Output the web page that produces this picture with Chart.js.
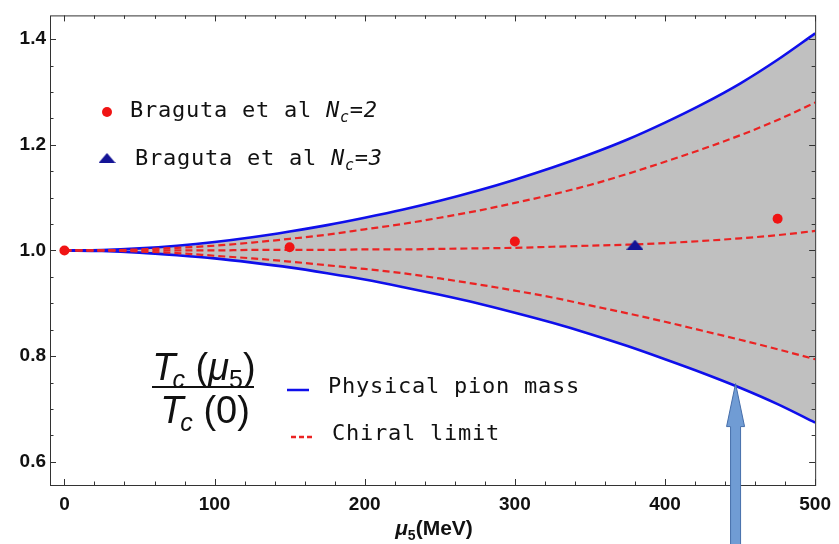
<!DOCTYPE html>
<html lang="en">
<head>
<meta charset="UTF-8">
<title>Tc(mu5)/Tc(0)</title>
<script src="https://cdn.jsdelivr.net/npm/chart.js@4"></script>
<style>
  html, body { margin: 0; padding: 0; background: #fff; }
  #wrap { width: 839px; height: 544px; }
</style>
</head>
<body>
<div id="wrap"><canvas id="tcChart" width="839" height="544"></canvas></div>
<script>
var mu5 = [0, 25, 50, 75, 100, 125, 150, 175, 200, 225, 250, 275, 300, 325, 350, 375, 400, 425, 450, 475, 500];
// physical pion mass band (blue)
var physUpper = [1.000, 1.001, 1.004, 1.009, 1.016, 1.025, 1.036, 1.048, 1.062, 1.077, 1.094, 1.113, 1.134, 1.157, 1.182, 1.210, 1.242, 1.277, 1.316, 1.361, 1.411];
var physLower = [1.000, 0.999, 0.996, 0.991, 0.985, 0.977, 0.968, 0.957, 0.945, 0.931, 0.916, 0.900, 0.882, 0.863, 0.842, 0.819, 0.794, 0.768, 0.740, 0.709, 0.674];
// chiral limit (red dashed)
var chiralUpper = [1.000, 1.000, 1.002, 1.005, 1.009, 1.015, 1.022, 1.030, 1.040, 1.050, 1.062, 1.075, 1.090, 1.106, 1.124, 1.145, 1.168, 1.192, 1.218, 1.247, 1.280];
var chiralMid = [1.000, 1.000, 1.000, 1.000, 1.000, 1.001, 1.001, 1.001, 1.002, 1.002, 1.003, 1.004, 1.005, 1.007, 1.009, 1.011, 1.014, 1.018, 1.023, 1.029, 1.037];
var chiralLower = [1.000, 1.000, 0.998, 0.995, 0.990, 0.985, 0.979, 0.972, 0.965, 0.957, 0.947, 0.936, 0.924, 0.911, 0.896, 0.881, 0.865, 0.848, 0.831, 0.813, 0.794];
// lattice points
var nc2Mu = [0, 150, 300, 475];
var nc2Val = [1.000, 1.006, 1.017, 1.060];
var nc3Mu = [380];
var nc3Val = [1.011];
// axis ticks
var xTicks = [0, 100, 200, 300, 400, 500];
var yTicks = [0.6, 0.8, 1.0, 1.2, 1.4];
// arrow annotation: points at the lower band edge
var arrowMu = 447;
var arrowVal = 0.748;

function pts(xs, ys) {
  return xs.map(function (x, i) { return { x: x, y: ys[i] }; });
}

var BLUE = 'rgb(15,15,235)';
var RED = 'rgb(235,35,35)';
var SANS = '"Liberation Sans", Arial, sans-serif';
var MONO = '"DejaVu Sans Mono", monospace';

// flat triangle marker
function makeTriangle(w, h) {
  var c = document.createElement('canvas');
  c.width = w; c.height = h;
  var g = c.getContext('2d');
  g.fillStyle = 'rgb(20,20,150)';
  g.beginPath();
  g.moveTo(w / 2, 0);
  g.lineTo(w, h);
  g.lineTo(0, h);
  g.closePath();
  g.fill();
  return c;
}
var triMarker = makeTriangle(17, 10);

function drawRuns(ctx, x, y, runs) {
  runs.forEach(function (r) {
    ctx.font = r.font;
    x += (r.dx || 0);
    ctx.fillText(r.t, x, y + (r.dy || 0));
    x += ctx.measureText(r.t).width;
  });
  return x;
}
function runsWidth(ctx, runs) {
  var w = 0;
  runs.forEach(function (r) {
    ctx.font = r.font;
    w += ctx.measureText(r.t).width + (r.dx || 0);
  });
  return w;
}

var decorPlugin = {
  id: 'decor',
  beforeDraw: function (chart) {
    var ctx = chart.ctx;
    ctx.save();
    ctx.fillStyle = '#fff';
    ctx.fillRect(0, 0, chart.width, chart.height);
    ctx.restore();
  },
  afterDatasetsDraw: function (chart) {
    var ctx = chart.ctx, a = chart.chartArea;
    var xs = chart.scales.x, ys = chart.scales.y;
    ctx.save();
    ctx.strokeStyle = '#333';
    ctx.lineWidth = 1;
    ctx.strokeRect(a.left + 0.5, a.top + 0.5, a.right - a.left, a.bottom - a.top);
    ctx.beginPath();
    // x ticks (bottom and top), minor every 20
    for (var v = 0; v <= 500; v += 20) {
      var px = Math.round(xs.getPixelForValue(v)) + 0.5;
      var len = (v % 100 === 0) ? 6 : 3.5;
      ctx.moveTo(px, a.bottom); ctx.lineTo(px, a.bottom - len);
      ctx.moveTo(px, a.top); ctx.lineTo(px, a.top + len);
    }
    // y ticks (left and right), minor every 0.05
    for (var k = 12; k <= 28; k++) {
      var py = Math.round(ys.getPixelForValue(k * 0.05)) + 0.5;
      var l2 = (k % 4 === 0) ? 6 : 3.5;
      ctx.moveTo(a.left, py); ctx.lineTo(a.left + l2, py);
      ctx.moveTo(a.right, py); ctx.lineTo(a.right - l2, py);
    }
    ctx.stroke();
    ctx.restore();
  },
  afterDraw: function (chart) {
    var ctx = chart.ctx;
    var xs = chart.scales.x, ys = chart.scales.y;
    ctx.save();
    ctx.fillStyle = '#111';
    ctx.textBaseline = 'alphabetic';

    // top legend
    ctx.fillStyle = 'rgb(240,20,20)';
    ctx.beginPath(); ctx.arc(107, 112, 5, 0, Math.PI * 2); ctx.fill();
    ctx.drawImage(triMarker, 107 - 8.5, 153);
    ctx.fillStyle = '#111';
    ctx.letterSpacing = '0.75px';
    drawRuns(ctx, 130, 117, [
      { t: 'Braguta et al ', font: '22px ' + MONO },
      { t: 'N', font: 'italic 22px ' + MONO },
      { t: 'c', font: 'italic 15px ' + MONO, dy: 5 },
      { t: '=2', font: 'italic 22px ' + MONO }
    ]);
    drawRuns(ctx, 135, 165, [
      { t: 'Braguta et al ', font: '22px ' + MONO },
      { t: 'N', font: 'italic 22px ' + MONO },
      { t: 'c', font: 'italic 15px ' + MONO, dy: 5 },
      { t: '=3', font: 'italic 22px ' + MONO }
    ]);

    // bottom legend
    ctx.lineWidth = 2.5;
    ctx.strokeStyle = BLUE;
    ctx.beginPath(); ctx.moveTo(287, 390); ctx.lineTo(309, 390); ctx.stroke();
    ctx.strokeStyle = RED;
    ctx.setLineDash([5, 3]);
    ctx.beginPath(); ctx.moveTo(291, 437); ctx.lineTo(314, 437); ctx.stroke();
    ctx.setLineDash([]);
    drawRuns(ctx, 328, 393, [{ t: 'Physical pion mass', font: '22px ' + MONO }]);
    drawRuns(ctx, 332, 440, [{ t: 'Chiral limit', font: '22px ' + MONO }]);
    ctx.letterSpacing = '0px';

    // Tc(mu5)/Tc(0)
    var num = [
      { t: 'T', font: 'italic 38px ' + SANS },
      { t: 'c', font: 'italic 25px ' + SANS, dy: 8, dx: -3 },
      { t: ' (', font: '38px ' + SANS },
      { t: '\u03bc', font: 'italic 38px ' + SANS },
      { t: '5', font: '25px ' + SANS, dy: 8 },
      { t: ')', font: '38px ' + SANS }
    ];
    var den = [
      { t: 'T', font: 'italic 38px ' + SANS },
      { t: 'c', font: 'italic 25px ' + SANS, dy: 8, dx: -3 },
      { t: ' (0)', font: '38px ' + SANS }
    ];
    drawRuns(ctx, 204 - runsWidth(ctx, num) / 2, 380, num);
    drawRuns(ctx, 205 - runsWidth(ctx, den) / 2, 423, den);
    ctx.fillRect(152, 386, 102, 2);

    // x axis title
    var xt = [
      { t: '\u03bc', font: 'italic bold 21px ' + SANS },
      { t: '5', font: 'bold 14px ' + SANS, dy: 5 },
      { t: '(MeV)', font: 'bold 21px ' + SANS }
    ];
    drawRuns(ctx, 434 - runsWidth(ctx, xt) / 2, 535, xt);

    // arrow
    var ax = xs.getPixelForValue(arrowMu);
    var ay = ys.getPixelForValue(arrowVal);
    ctx.fillStyle = 'rgb(112,156,212)';
    ctx.strokeStyle = 'rgb(70,110,170)';
    ctx.lineWidth = 1;
    ctx.beginPath();
    ctx.moveTo(ax, ay);
    ctx.lineTo(ax + 9, ay + 43);
    ctx.lineTo(ax + 5, ay + 43);
    ctx.lineTo(ax + 5, chart.height + 2);
    ctx.lineTo(ax - 5, chart.height + 2);
    ctx.lineTo(ax - 5, ay + 43);
    ctx.lineTo(ax - 9, ay + 43);
    ctx.closePath();
    ctx.fill();
    ctx.stroke();
    ctx.restore();
  }
};

var lineBase = { showLine: true, pointRadius: 0, cubicInterpolationMode: 'monotone', fill: false };

var chart = new Chart(document.getElementById('tcChart').getContext('2d'), {
  type: 'scatter',
  data: {
    datasets: [
      { label: 'Braguta et al Nc=2', data: pts(nc2Mu, nc2Val), pointRadius: 5, pointBackgroundColor: 'rgb(240,20,20)', pointBorderWidth: 0, showLine: false },
      { label: 'Braguta et al Nc=3', data: pts(nc3Mu, nc3Val), pointStyle: triMarker, pointRadius: 8, showLine: false },
      Object.assign({}, lineBase, { label: 'Chiral upper', data: pts(mu5, chiralUpper), borderColor: RED, borderWidth: 2.2, borderDash: [7, 4] }),
      Object.assign({}, lineBase, { label: 'Chiral mid', data: pts(mu5, chiralMid), borderColor: RED, borderWidth: 2.2, borderDash: [7, 4] }),
      Object.assign({}, lineBase, { label: 'Chiral lower', data: pts(mu5, chiralLower), borderColor: RED, borderWidth: 2.2, borderDash: [7, 4] }),
      Object.assign({}, lineBase, { label: 'Physical upper', data: pts(mu5, physUpper), borderColor: BLUE, borderWidth: 2.6, fill: '+1', backgroundColor: '#c0c0c0' }),
      Object.assign({}, lineBase, { label: 'Physical lower', data: pts(mu5, physLower), borderColor: BLUE, borderWidth: 2.6 })
    ]
  },
  options: {
    responsive: false,
    animation: false,
    devicePixelRatio: 1,
    layout: { padding: { top: 11, right: 21, left: 0, bottom: 0 } },
    plugins: {
      legend: { display: false },
      tooltip: { enabled: false },
      filler: { drawTime: 'beforeDatasetsDraw' }
    },
    scales: {
      x: {
        type: 'linear', min: -9.6, max: 500,
        grid: { display: false, drawTicks: false },
        border: { display: false },
        afterBuildTicks: function (s) { s.ticks = xTicks.map(function (v) { return { value: v }; }); },
        afterFit: function (s) { s.height = 59; },
        ticks: { padding: 8, color: '#111', maxRotation: 0, font: { family: SANS, size: 19, weight: 'bold' } }
      },
      y: {
        type: 'linear', min: 0.556, max: 1.445,
        grid: { display: false, drawTicks: false },
        border: { display: false },
        afterBuildTicks: function (s) { s.ticks = yTicks.map(function (v) { return { value: v }; }); },
        afterFit: function (s) { s.width = 50; },
        ticks: { padding: 4, color: '#111', font: { family: SANS, size: 19, weight: 'bold' },
          callback: function (v) { return Number(v).toFixed(1); } }
      }
    }
  },
  plugins: [decorPlugin]
});
</script>
</body>
</html>
